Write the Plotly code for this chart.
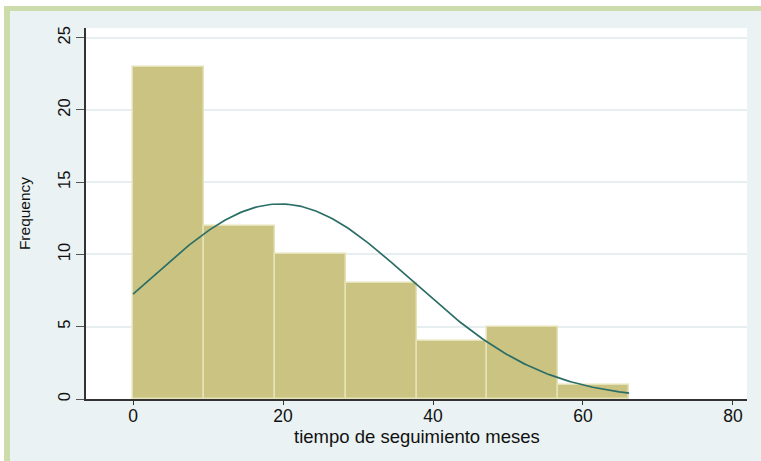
import numpy as np
import plotly.graph_objects as go

# ---- data ----
bin_start = 0.0
bin_width = 9.45
bin_counts = [23, 12, 10, 8, 4, 5, 1]
fit_mean = 19.6
fit_sd = 17.6
x_ticks = [0, 20, 40, 60, 80]
y_ticks = [0, 5, 10, 15, 20, 25]
x_title = "tiempo de seguimiento meses"
y_title = "Frequency"

n_total = sum(bin_counts)
centers = [bin_start + bin_width * (i + 0.5) for i in range(len(bin_counts))]
x_max = bin_start + bin_width * len(bin_counts)

xs = np.linspace(bin_start, x_max, 200)
ys = n_total * bin_width / (fit_sd * np.sqrt(2 * np.pi)) * np.exp(-0.5 * ((xs - fit_mean) / fit_sd) ** 2)

W, H = 761, 461
ML, MR, MT, MB = 86, 14, 28, 62
PW, PH = W - ML - MR, H - MT - MB


def px(xp):
    return (xp - ML) / PW


def py(yp):
    return (H - MB - yp) / PH


fig = go.Figure()
fig.add_trace(go.Bar(
    x=centers, y=bin_counts, width=bin_width,
    marker=dict(color="#cbc381", line=dict(color="#e6e2b8", width=1.5)),
    hoverinfo="skip", showlegend=False,
))
fig.add_trace(go.Scatter(
    x=xs, y=ys, mode="lines",
    line=dict(color="#2b6e66", width=1.7),
    hoverinfo="skip", showlegend=False,
))

shapes = []
# white page edges
shapes.append(dict(type="rect", xref="paper", yref="paper", x0=px(0), x1=px(W), y0=py(0), y1=py(6),
                   fillcolor="white", line=dict(width=0), layer="below"))
shapes.append(dict(type="rect", xref="paper", yref="paper", x0=px(0), x1=px(4), y0=py(0), y1=py(H),
                   fillcolor="white", line=dict(width=0), layer="below"))
# green frame stripes
shapes.append(dict(type="rect", xref="paper", yref="paper", x0=px(4), x1=px(W), y0=py(6), y1=py(11),
                   fillcolor="#cddcab", line=dict(width=0), layer="below"))
shapes.append(dict(type="rect", xref="paper", yref="paper", x0=px(4), x1=px(10), y0=py(6), y1=py(H),
                   fillcolor="#cddcab", line=dict(width=0), layer="below"))

font_family = "Liberation Sans, Arial, sans-serif"
fig.update_layout(
    width=W, height=H,
    margin=dict(l=ML, r=MR, t=MT, b=MB, pad=0),
    paper_bgcolor="#eaf2f3",
    plot_bgcolor="white",
    bargap=0,
    shapes=shapes,
    font=dict(family=font_family, color="#111111"),
    annotations=[dict(
        text=x_title, xref="paper", yref="paper", x=0.5, y=py(436),
        xanchor="center", yanchor="middle", showarrow=False,
        font=dict(size=18.5, family=font_family, color="#111111"),
    )],
    xaxis=dict(
        range=[-6.27, 81.87], tickvals=x_ticks, ticks="outside", ticklen=4, tickwidth=1.2,
        tickcolor="#333333", showgrid=False, zeroline=False,
        showline=True, linecolor="#333333", linewidth=1.5,
        tickfont=dict(size=17.5, family=font_family, color="#111111"),
        ticklabelstandoff=-4,
        automargin=False,
    ),
    yaxis=dict(
        range=[0, 25.67], tickvals=y_ticks, ticks="outside", ticklen=8, tickwidth=1.2,
        tickcolor="#555555", tickangle=-90, showgrid=True, gridcolor="#e6eef0", gridwidth=1.5,
        zeroline=False, showline=True, linecolor="#333333", linewidth=1.5,
        tickfont=dict(size=16.5, family=font_family, color="#111111"),
        title=dict(text=y_title, font=dict(size=15.5, family=font_family, color="#111111"), standoff=20),
        automargin=False,
    ),
)

fig.write_html("out.html")
